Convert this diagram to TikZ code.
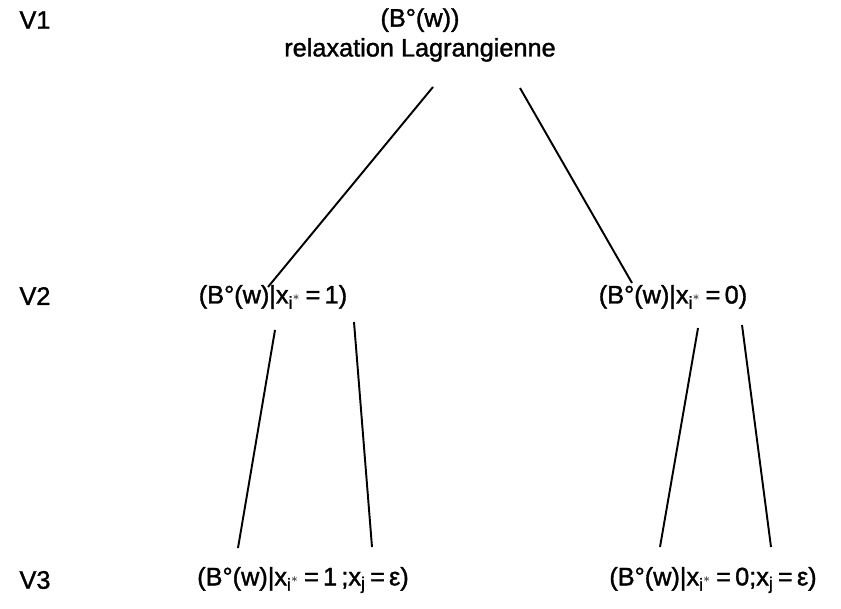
\documentclass[tikz,border=0pt]{standalone}
\usepackage{amsmath}
\usepackage{fontspec}
\setmainfont{Liberation Sans}[BoldFont={Liberation Sans},BoldFeatures={FakeBold=1.4}]
\usetikzlibrary{calc}
\newcommand{\Bw}{(B°(w)}
\newcommand{\xis}{x$_{\text{i}^{*}}$}
\newcommand{\xj}{x$_{\text{j}}$}

\begin{document}
\begin{tikzpicture}[x=0.02cm,y=-0.02cm,
  lvl/.style={font=\fontsize{14.4}{17}\selectfont\bfseries,inner sep=0pt},
  pb/.style={font=\fontsize{14.4}{17}\selectfont\bfseries,inner sep=0pt,
    align=center},
  br/.style={line width=1.1pt,black}
]
  \useasboundingbox (0,0) rectangle (841,608);

  \node[lvl] (v1) at (35,20) {V1};
  \node[lvl] (v2) at (35,296) {V2};
  \node[lvl] (v3) at (35,580) {V3};

  \node[pb] (root) at (420,35) {\Bw)\\relaxation Lagrangienne};

  \node[pb] (un) at (273,297) {\Bw|\xis\,=\,1)};
  \node[pb] (zero) at (673,297) {\Bw|\xis\,=\,0)};

  \node[pb] (uneps) at (303,580) {\Bw|\xis\,=\,1\,;\xj\,=\,ε)};
  \node[pb] (zeroeps) at (713,580) {\Bw|\xis\,=\,0;\xj\,=\,ε)};

  \draw[br] ($(root)+(13,52)$) -- ($(un)+(-5,-10)$);
  \draw[br] ($(root)+(100,53)$) -- ($(zero)+(-41,-14)$);
  \draw[br] ($(un)+(2,33)$) -- ($(uneps)+(-65,-32)$);
  \draw[br] ($(un)+(81,25)$) -- ($(uneps)+(69,-33)$);
  \draw[br] ($(zero)+(25,31)$) -- ($(zeroeps)+(-53,-33)$);
  \draw[br] ($(zero)+(69,28)$) -- ($(zeroeps)+(58,-33)$);
\end{tikzpicture}
\end{document}
